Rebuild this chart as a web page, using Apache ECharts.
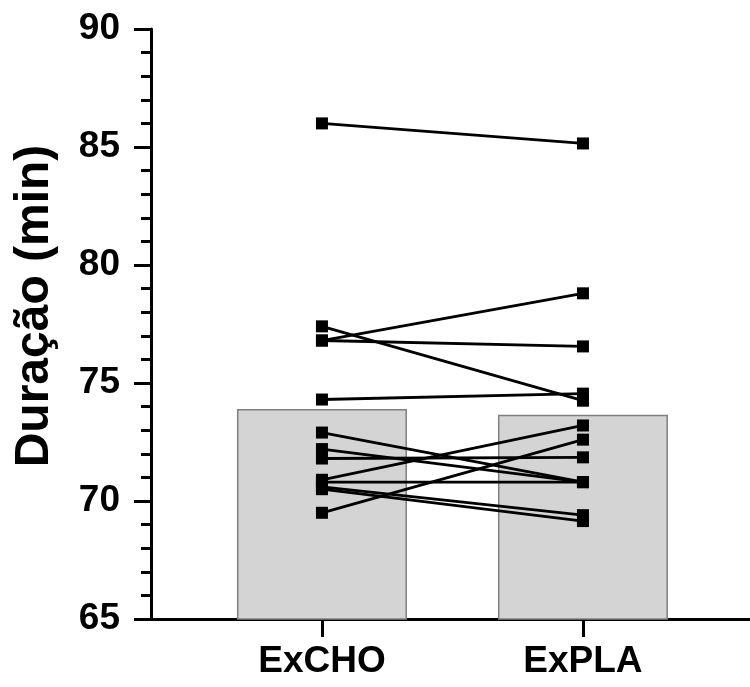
<!DOCTYPE html>
<html>
<head>
<meta charset="utf-8">
<script src="https://cdn.jsdelivr.net/npm/echarts@6/dist/echarts.min.js"></script>
<style>html,body{margin:0;padding:0;background:#fff;}#c{width:750px;height:687px;}</style>
</head>
<body>
<div id="c"></div>
<script>
var categories = ['ExCHO', 'ExPLA'];
var barMeans = [73.9, 73.65];
var exCHO = [86.0, 77.4, 76.8, 76.8, 74.3, 72.9, 72.2, 71.8, 70.9, 70.8, 70.6, 70.5, 69.5];
var exPLA = [85.15, 74.25, 78.8, 76.55, 74.55, 70.8, 70.8, 71.85, 73.2, 70.8, 69.4, 69.15, 72.6];
var yTicks = [65, 70, 75, 80, 85, 90];

var FONT = '"Liberation Sans", Arial, sans-serif';
var series = [{
  type: 'bar',
  data: barMeans.map(function (v, i) { return [i + 1, v]; }),
  barWidth: 170,
  itemStyle: { color: '#d4d4d4', borderColor: '#808080', borderWidth: 1.5 },
  z: 1,
  silent: true
}];
for (var i = 0; i < exCHO.length; i++) {
  series.push({
    type: 'line',
    data: [[1, exCHO[i]], [2, exPLA[i]]],
    symbol: 'rect',
    symbolSize: 12,
    lineStyle: { color: '#000', width: 2.8 },
    itemStyle: { color: '#000' },
    z: 3,
    silent: true,
    animation: false
  });
}

var chart = echarts.init(document.getElementById('c'));
chart.setOption({
  animation: false,
  grid: { left: 151, right: 0, top: 29, bottom: 68, containLabel: false },
  xAxis: {
    type: 'value',
    min: 0.345,
    max: 2.64,
    splitLine: { show: false },
    axisLine: { show: true, onZero: false, lineStyle: { color: '#000', width: 3 } },
    axisTick: { show: true, customValues: [1, 2], length: 18, lineStyle: { color: '#000', width: 3 } },
    axisLabel: {
      customValues: [1, 2],
      formatter: function (v) { return categories[Math.round(v) - 1] || ''; },
      margin: 24, color: '#000', fontSize: 37, fontWeight: 'bold', fontFamily: FONT
    }
  },
  yAxis: {
    type: 'value',
    min: yTicks[0],
    max: yTicks[yTicks.length - 1],
    interval: 5,
    name: 'Duração (min)',
    nameLocation: 'middle',
    nameGap: 92,
    nameTextStyle: { color: '#000', fontSize: 48, fontWeight: 'bold', fontFamily: FONT, padding: [0, 0, 0, 36] },
    splitLine: { show: false },
    axisLine: { show: true, lineStyle: { color: '#000', width: 3 } },
    axisTick: { show: true, length: 17, lineStyle: { color: '#000', width: 3 } },
    minorTick: { show: true, splitNumber: 5, length: 10, lineStyle: { color: '#000', width: 3 } },
    axisLabel: { margin: 31, color: '#000', fontSize: 37, fontWeight: 'bold', fontFamily: FONT }
  },
  series: series
});
</script>
</body>
</html>
